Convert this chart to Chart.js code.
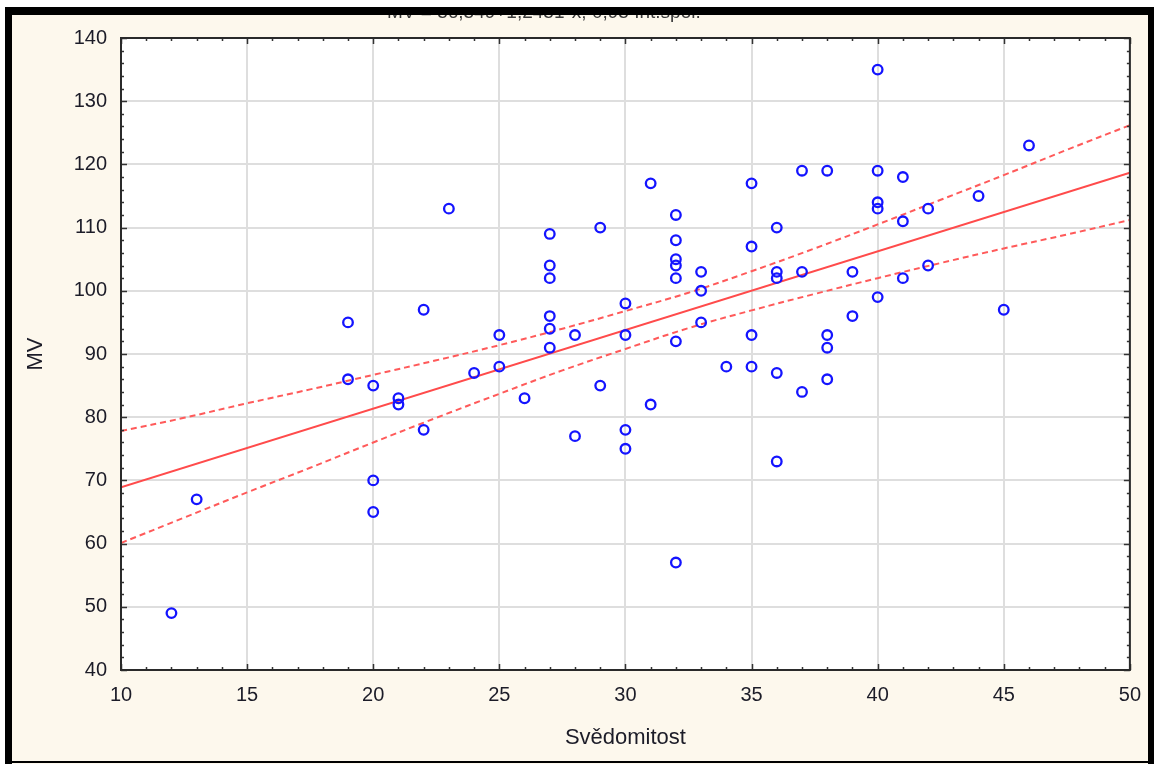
<!DOCTYPE html>
<html>
<head>
<meta charset="utf-8">
<title>MV vs. Svědomitost</title>
<script src="https://cdn.jsdelivr.net/npm/chart.js@4.4.0/dist/chart.umd.min.js"></script>
<style>
  html, body { margin: 0; padding: 0; background: #ffffff; }
  #chart { display: block; }
</style>
</head>
<body>
<canvas id="chart" width="1154" height="764"></canvas>
<script>
// Observed values: Svědomitost (x) and MV (y), one entry per respondent
const svedomitost = [
  12, 13, 19, 19, 20, 20, 20, 21, 21, 22, 22, 23, 24, 25, 25, 26,
  27, 27, 27, 27, 27, 27, 28, 28, 29, 29, 30, 30, 30, 30, 31, 31,
  32, 32, 32, 32, 32, 32, 32, 33, 33, 33, 34, 35, 35, 35, 35,
  36, 36, 36, 36, 36, 37, 37, 37, 38, 38, 38, 38, 39, 39,
  40, 40, 40, 40, 40, 41, 41, 41, 42, 42, 44, 45, 46
];
const mv = [
  49, 67, 95, 86, 85, 70, 65, 83, 82, 97, 78, 113, 87, 93, 88, 83,
  109, 104, 102, 96, 94, 91, 93, 77, 110, 85, 98, 93, 78, 75, 117, 82,
  112, 108, 105, 104, 102, 92, 57, 103, 100, 95, 88, 117, 107, 93, 88,
  110, 103, 102, 87, 73, 119, 103, 84, 119, 93, 91, 86, 103, 96,
  135, 119, 114, 113, 99, 118, 111, 102, 113, 104, 115, 97, 123
];

// Fitted line end points
const fitX = [10, 50];
const fitY = [68.9, 118.7];

// 0,95 confidence band
const bandX = [10, 12.5, 15, 17.5, 20, 22.5, 25, 27.5, 30, 32.5, 35, 37.5, 40, 42.5, 45, 47.5, 50];
const bandUpper = [77.8, 79.9, 82.2, 84.4, 86.7, 89.0, 91.4, 94.0, 96.8, 99.7, 103.1, 106.7, 110.5, 114.4, 118.3, 122.3, 126.2];
const bandLower = [60.1, 64.1, 68.1, 72.0, 76.0, 79.9, 83.7, 87.4, 90.8, 94.1, 96.9, 99.5, 102.0, 104.4, 106.7, 108.9, 111.2];

const xTicks = [10, 15, 20, 25, 30, 35, 40, 45, 50];
const yTicks = [40, 50, 60, 70, 80, 90, 100, 110, 120, 130, 140];

const topTitle = "MV = 56,549+1,2451*x; 0,95 Int.spol.";
const xTitle = "Svědomitost";
const yTitle = "MV";

const toPoints = (xs, ys) => xs.map((x, i) => ({ x: x, y: ys[i] }));

const FONT = "'Liberation Sans', Arial, sans-serif";
const TEXT = "#1c1c28";
const CREAM = "#fdf8ed";

// Frame, titles and the inward tick marks
const framePlugin = {
  id: "frame",
  beforeDraw(chart) {
    const ctx = chart.ctx;
    const a = chart.chartArea;
    ctx.save();
    ctx.fillStyle = "#ffffff";
    ctx.fillRect(0, 0, chart.width, chart.height);
    ctx.fillStyle = CREAM;
    ctx.fillRect(5, 7, chart.width - 5, chart.height - 7);
    ctx.fillStyle = "#ffffff";
    ctx.fillRect(a.left, a.top, a.right - a.left, a.bottom - a.top);

    // heading, cut off by the top bar so only its lower edge shows
    ctx.beginPath();
    ctx.rect(0, 15, chart.width, 10);
    ctx.clip();
    ctx.fillStyle = "#3a3a3a";
    ctx.font = "19px " + FONT;
    ctx.textAlign = "left";
    ctx.textBaseline = "alphabetic";
    ctx.fillText(topTitle, 387, 18);
    ctx.restore();
  },
  afterDraw(chart) {
    const ctx = chart.ctx;
    const a = chart.chartArea;
    const xs = chart.scales.x;
    const ys = chart.scales.y;
    ctx.save();

    // tick marks pointing into the plot on all four sides
    ctx.strokeStyle = "#333";
    ctx.lineWidth = 1.5;
    ctx.beginPath();
    for (let v = xs.min; v <= xs.max; v += 1) {
      const px = Math.round(xs.getPixelForValue(v)) + 0.5;
      const len = v % 5 === 0 ? 6 : 3;
      ctx.moveTo(px, a.bottom);
      ctx.lineTo(px, a.bottom - len);
      ctx.moveTo(px, a.top);
      ctx.lineTo(px, a.top + len);
    }
    for (let v = ys.min; v <= ys.max; v += 2) {
      const py = Math.round(ys.getPixelForValue(v)) + 0.5;
      const len = v % 10 === 0 ? 6 : 3;
      ctx.moveTo(a.left, py);
      ctx.lineTo(a.left + len, py);
      ctx.moveTo(a.right, py);
      ctx.lineTo(a.right - len, py);
    }
    ctx.stroke();

    // plot box
    ctx.lineWidth = 2;
    ctx.strokeStyle = "#2a2a2a";
    ctx.strokeRect(a.left, a.top, a.right - a.left, a.bottom - a.top);

    // axis titles
    ctx.fillStyle = TEXT;
    ctx.font = "22px " + FONT;
    ctx.textAlign = "center";
    ctx.textBaseline = "middle";
    ctx.fillText(xTitle, (a.left + a.right) / 2, 738);
    ctx.translate(36, (a.top + a.bottom) / 2);
    ctx.rotate(-Math.PI / 2);
    ctx.fillText(yTitle, 0, 0);
    ctx.setTransform(1, 0, 0, 1, 0, 0);

    // black outer frame
    ctx.fillStyle = "#000000";
    ctx.fillRect(5, 7, chart.width - 5, 8);
    ctx.fillRect(5, 7, 7, chart.height - 7);
    ctx.fillRect(1148, 7, 6, chart.height - 7);
    ctx.fillRect(5, 761, chart.width - 5, 2);
    ctx.restore();
  }
};

const bandStyle = {
  showLine: true,
  borderColor: "#ff5a5a",
  borderWidth: 2,
  borderDash: [6, 4],
  pointRadius: 0,
  fill: false,
  tension: 0.4,
  order: 2
};

new Chart(document.getElementById("chart"), {
  type: "scatter",
  data: {
    datasets: [
      {
        label: "MV",
        data: toPoints(svedomitost, mv),
        pointStyle: "circle",
        pointRadius: 4.8,
        pointBorderWidth: 2.3,
        borderColor: "#1414ff",
        backgroundColor: "rgba(0,0,0,0)",
        pointHoverRadius: 4.8,
        order: 0
      },
      {
        label: "fit",
        data: toPoints(fitX, fitY),
        showLine: true,
        borderColor: "#ff4b4b",
        borderWidth: 2,
        pointRadius: 0,
        order: 1
      },
      Object.assign({ label: "upper", data: toPoints(bandX, bandUpper) }, bandStyle),
      Object.assign({ label: "lower", data: toPoints(bandX, bandLower) }, bandStyle)
    ]
  },
  options: {
    responsive: false,
    animation: false,
    devicePixelRatio: 1,
    layout: { padding: { top: 38, right: 24, left: 0, bottom: 0 } },
    plugins: {
      legend: { display: false },
      tooltip: { enabled: false },
      title: { display: false }
    },
    scales: {
      x: {
        type: "linear",
        min: 10,
        max: 50,
        afterFit: (s) => { s.height = 94; },
        afterBuildTicks: (s) => { s.ticks = xTicks.map(v => ({ value: v })); },
        ticks: {
          color: TEXT,
          font: { family: FONT, size: 20 },
          padding: 13,
          maxRotation: 0
        },
        grid: { color: "#dedede", lineWidth: 2, drawTicks: false },
        border: { display: false }
      },
      y: {
        type: "linear",
        min: 40,
        max: 140,
        afterFit: (s) => { s.width = 121; },
        afterBuildTicks: (s) => { s.ticks = yTicks.map(v => ({ value: v })); },
        ticks: {
          color: TEXT,
          font: { family: FONT, size: 20 },
          padding: 14
        },
        grid: { color: "#dedede", lineWidth: 2, drawTicks: false },
        border: { display: false }
      }
    }
  },
  plugins: [framePlugin]
});
</script>
</body>
</html>
